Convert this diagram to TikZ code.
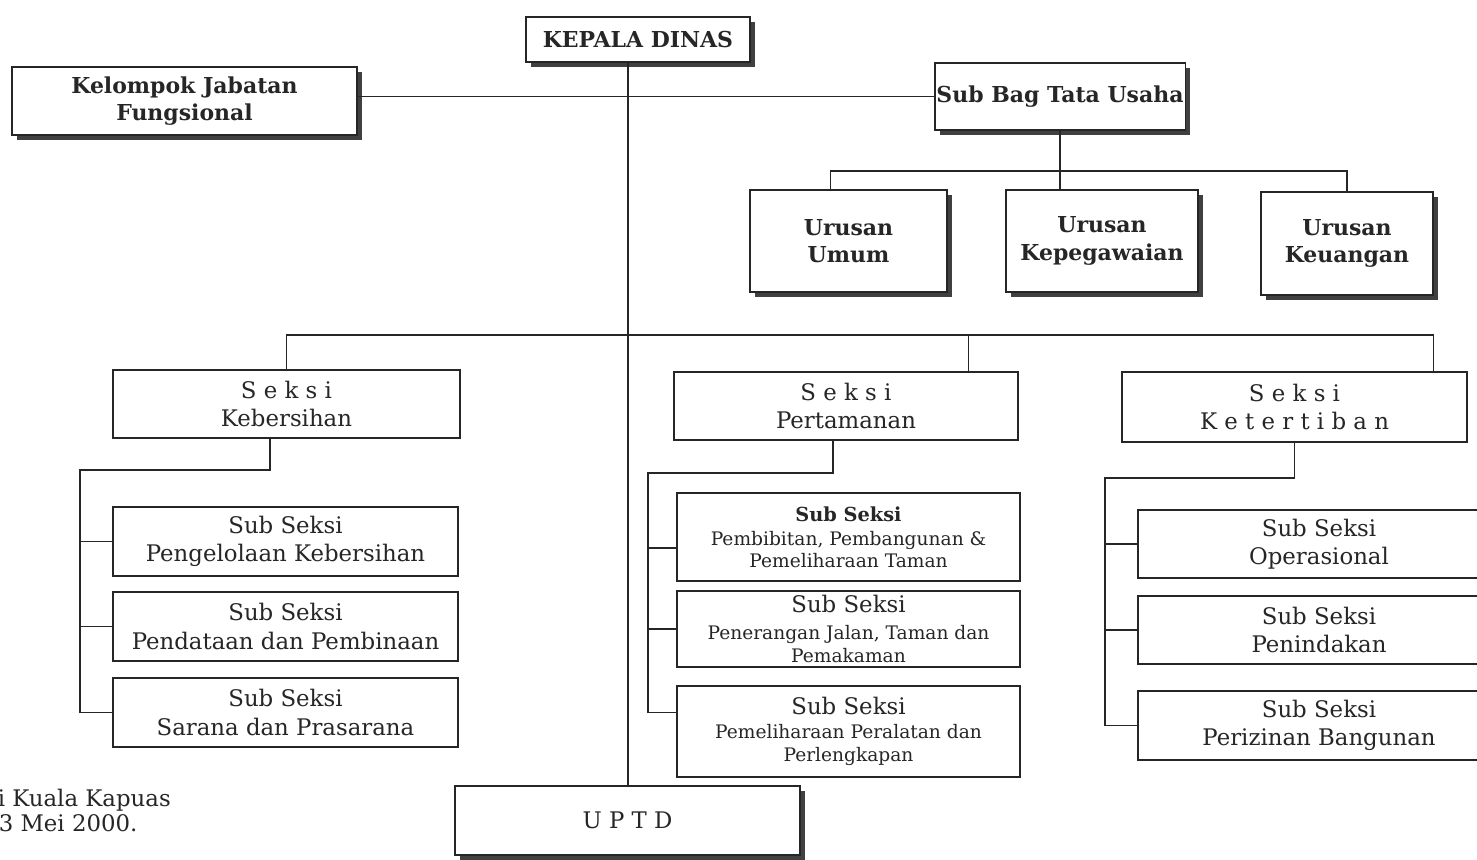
\documentclass[tikz,border=0pt]{standalone}
\usepackage{fontspec}
\setmainfont{DejaVu Serif}
\usetikzlibrary{shadows}
\newcommand\boxfont{\fontsize{13}{16}\selectfont}
\newcommand\smallfont{\fontsize{10.6}{13}\selectfont}
\begin{document}
\begin{tikzpicture}[x=0.02cm,y=-0.02cm,line width=0.9pt,color=black!85,
    plainbox/.style={draw,fill=white,line width=0.8pt,inner sep=1pt,align=center,font=\boxfont},
    topbox/.style={plainbox,line width=0.9pt,font=\bfseries\fontsize{12.5}{15.5}\selectfont,
      drop shadow={shadow xshift=1mm,shadow yshift=-1mm,fill=black!75,opacity=1}}]
  \useasboundingbox (0,0) rectangle (1477,859);
  \draw
    (638,39.5) node[topbox,minimum width=44.8mm,minimum height=9mm] (kepala){KEPALA DINAS}
    (184.5,101) node[topbox,minimum width=69mm,minimum height=13.6mm] (kelompok){Kelompok Jabatan\\Fungsional}
    (1060,96.5) node[topbox,minimum width=50mm,minimum height=13.4mm] (subbag){Sub Bag Tata Usaha}
    (848.5,241) node[topbox,minimum width=39.4mm,minimum height=20.4mm] (umum){Urusan\\Umum}
    (1102,241) node[topbox,minimum width=38.4mm,minimum height=20.4mm] (kepeg){Urusan\\Kepegawaian}
    (1347,243.5) node[topbox,minimum width=34.4mm,minimum height=20.6mm] (keuangan){Urusan\\Keuangan}
    (627.5,820.5) node[topbox,font=\boxfont,minimum width=69mm,minimum height=13.8mm] (uptd){U P T D};
  \draw
    (286.5,404) node[plainbox,minimum width=69.4mm,minimum height=13.6mm] (kebersihan){S e k s i\\Kebersihan}
    (846,406) node[plainbox,minimum width=68.8mm,minimum height=13.6mm] (pertamanan){S e k s i\\Pertamanan}
    (1294.5,407) node[plainbox,minimum width=69mm,minimum height=14mm] (ketertiban){S e k s i\\K e t e r t i b a n}
    (285.5,541.5) node[plainbox,minimum width=69mm,minimum height=13.8mm] (kb1){Sub Seksi\\Pengelolaan Kebersihan}
    (285.5,626.5) node[plainbox,minimum width=69mm,minimum height=13.8mm] (kb2){Sub Seksi\\Pendataan dan Pembinaan}
    (285.5,712.5) node[plainbox,minimum width=69mm,minimum height=13.8mm] (kb3){Sub Seksi\\Sarana dan Prasarana}
    (848.5,537) node[plainbox,minimum width=68.6mm,minimum height=17.6mm] (pt1){\bfseries\fontsize{11}{14}\selectfont Sub Seksi\\[-2.3pt]\smallfont Pembibitan, Pembangunan \&\\[-3.4pt]\smallfont Pemeliharaan Taman}
    (848.5,629) node[plainbox,minimum width=68.6mm,minimum height=15.2mm] (pt2){Sub Seksi\\[-1.1pt]\smallfont Penerangan Jalan, Taman dan\\[-2.8pt]\smallfont Pemakaman}
    (848.5,731.5) node[plainbox,minimum width=68.6mm,minimum height=18.2mm] (pt3){Sub Seksi\\[-2.3pt]\smallfont Pemeliharaan Peralatan dan\\[-2.8pt]\smallfont Perlengkapan}
    (1319,544) node[plainbox,minimum width=72.4mm,minimum height=13.6mm] (kt1){Sub Seksi\\Operasional}
    (1319,630) node[plainbox,minimum width=72.4mm,minimum height=13.6mm] (kt2){Sub Seksi\\Penindakan}
    (1319,725.5) node[plainbox,minimum width=72.4mm,minimum height=13.8mm] (kt3){Sub Seksi\\Perizinan Bangunan};
  \node[anchor=west,inner sep=0pt,font=\boxfont] (kota) at (-3,800) {i Kuala Kapuas};
  \node[anchor=west,inner sep=0pt,font=\boxfont] (tanggal) at (-2,823) {3 Mei 2000.};
  \coordinate (spine) at (628,0);
  \coordinate (sbar) at (0,335);
  \coordinate (kbtrunk) at (80,470);
  \coordinate (pttrunk) at (648,473);
  \coordinate (kttrunk) at (1105,478);
  \begin{scope}[-]
    \draw (kepala.south -| spine) to (uptd.north -| spine);
    \draw (kelompok.east |- subbag.west) to (subbag.west);
    \draw (subbag.south) to (subbag.south |- kepeg.north);
    \draw ([xshift=-3.6mm]umum.north) -- ++(0,3.6mm) -| (keuangan.north);
    \draw (kebersihan.north) |- (sbar -| ketertiban.north) -- ([xshift=-6.8mm]sbar -| ketertiban.north east) -- ([xshift=-6.8mm]ketertiban.north east);
    \draw ([xshift=-10mm]pertamanan.north east) to ([xshift=-10mm]sbar -| pertamanan.north east);
    \draw ([xshift=-3.3mm]kebersihan.south) |- (kbtrunk) -- (kbtrunk |- kb3.west) -- (kb3.west);
    \draw (kbtrunk |- kb1.west) to (kb1.west);
    \draw (kbtrunk |- kb2.west) to (kb2.west);
    \draw ([xshift=-2.6mm]pertamanan.south) |- (pttrunk) -- ([yshift=3.8mm]pttrunk |- pt3.west) -- ([yshift=3.8mm]pt3.west);
    \draw ([yshift=-2.2mm]pttrunk |- pt1.west) to ([yshift=-2.2mm]pt1.west);
    \draw (pttrunk |- pt2.west) to (pt2.west);
    \draw (ketertiban.south) |- (kttrunk) -- (kttrunk |- kt3.west) -- (kt3.west);
    \draw (kttrunk |- kt1.west) to (kt1.west);
    \draw (kttrunk |- kt2.west) to (kt2.west);
  \end{scope}
\end{tikzpicture}
\end{document}
